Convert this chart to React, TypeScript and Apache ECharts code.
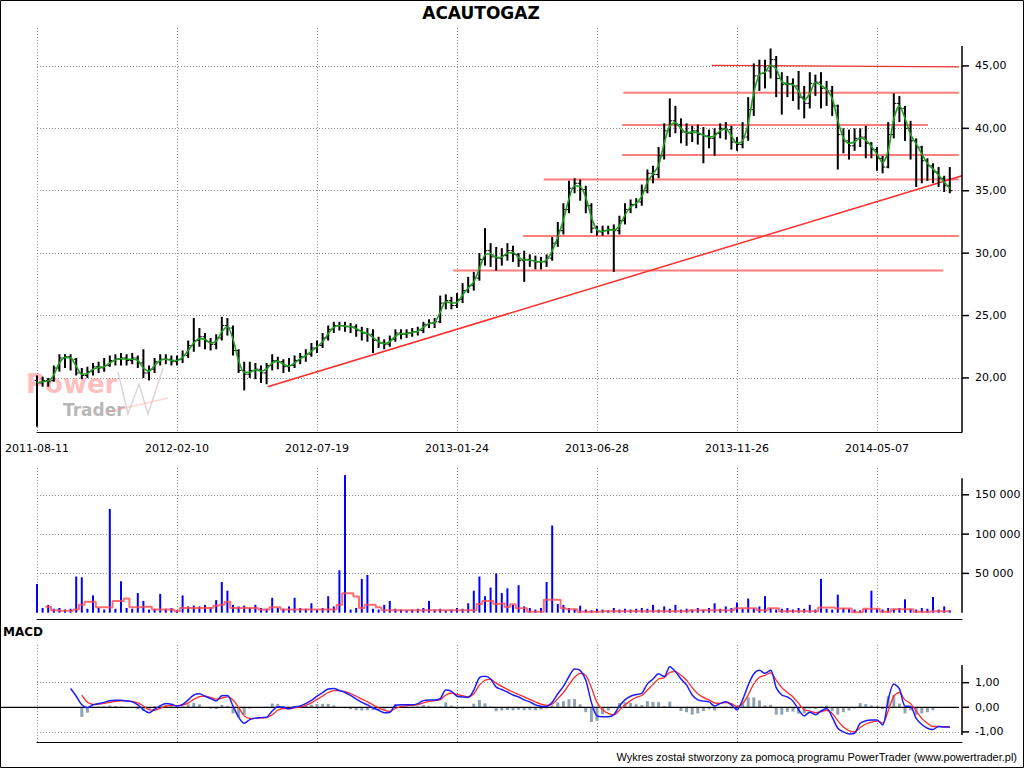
import React, { useEffect, useRef } from "react";
import * as echarts from "echarts";

const chartTitle = "ACAUTOGAZ";
const footerText = "Wykres został stworzony za pomocą programu PowerTrader (www.powertrader.pl)";
const dateLabels = ["2011-08-11", "2012-02-10", "2012-07-19", "2013-01-24", "2013-06-28", "2013-11-26", "2014-05-07"];
const barsPerLabel = 25;

// weekly bars: [open, close, low, high]
const priceBars = [
  [19.8, 19.6, 16.1, 20.2], [19.6, 19.8, 19.3, 20.1], [19.8, 19.7, 19.3, 20.0], [19.8, 20.8, 19.7, 21.0], [20.8, 21.6, 20.5, 21.9],
  [21.6, 21.7, 20.8, 21.9], [21.7, 21.5, 20.6, 21.9], [21.5, 20.4, 20.2, 21.6], [20.4, 20.2, 19.9, 20.8], [20.2, 20.5, 20.0, 20.9],
  [20.5, 20.9, 20.2, 21.2], [20.9, 20.8, 20.4, 21.3], [20.8, 21.0, 20.5, 21.6], [21.0, 21.4, 20.9, 21.8], [21.4, 21.5, 21.0, 21.9],
  [21.5, 21.6, 21.0, 22.0], [21.6, 21.4, 21.0, 21.9], [21.4, 21.6, 21.1, 22.0], [21.6, 21.2, 20.8, 21.8], [21.2, 20.4, 20.0, 22.3],
  [20.4, 20.7, 19.8, 21.0], [20.7, 21.3, 20.4, 21.6], [21.3, 21.5, 21.0, 21.9], [21.5, 21.5, 21.1, 21.9], [21.5, 21.3, 21.0, 21.8],
  [21.3, 21.5, 21.0, 21.8], [21.5, 21.8, 21.2, 22.2], [21.8, 22.6, 21.6, 23.0], [22.6, 23.0, 22.1, 24.8], [23.0, 23.3, 22.5, 24.0],
  [23.3, 22.9, 22.3, 23.6], [22.9, 22.7, 22.2, 23.2], [22.7, 23.2, 22.3, 23.5], [23.2, 24.2, 23.0, 24.9], [24.2, 24.0, 23.4, 24.8],
  [24.0, 22.2, 21.8, 24.2], [22.2, 20.6, 20.4, 22.3], [20.6, 20.3, 19.0, 21.3], [20.3, 20.6, 20.0, 21.3], [20.6, 20.7, 19.9, 21.2],
  [20.7, 20.4, 19.6, 21.0], [20.4, 21.0, 19.5, 21.2], [21.0, 21.4, 20.6, 21.9], [21.4, 21.3, 20.7, 21.7], [21.3, 20.9, 20.4, 21.5],
  [20.9, 21.0, 20.5, 21.6], [21.0, 21.4, 20.8, 21.8], [21.4, 21.7, 21.1, 22.0], [21.7, 21.9, 21.3, 22.3], [21.9, 22.4, 21.7, 22.8],
  [22.4, 22.6, 22.0, 23.0], [22.6, 23.2, 22.4, 23.6], [23.2, 23.9, 23.0, 24.2], [23.9, 24.2, 23.6, 24.5], [24.2, 24.2, 23.8, 24.5],
  [24.2, 24.1, 23.7, 24.5], [24.1, 24.1, 23.6, 24.4], [24.1, 23.8, 23.3, 24.3], [23.8, 23.6, 23.0, 24.1], [23.6, 23.5, 22.9, 24.0],
  [23.5, 23.0, 22.0, 23.9], [23.0, 22.8, 22.4, 23.3], [22.8, 22.7, 22.3, 23.1], [22.7, 23.1, 22.5, 23.4], [23.1, 23.6, 22.9, 23.9],
  [23.6, 23.5, 23.1, 23.9], [23.5, 23.6, 23.2, 23.9], [23.6, 23.7, 23.3, 24.0], [23.7, 23.8, 23.4, 24.1], [23.8, 24.3, 23.6, 24.5],
  [24.3, 24.4, 24.0, 24.7], [24.4, 24.5, 24.0, 24.8], [24.5, 26.0, 24.4, 26.6], [26.0, 26.2, 25.5, 26.7], [26.2, 25.8, 25.5, 26.5],
  [25.8, 26.3, 25.6, 26.8], [26.3, 27.0, 26.0, 27.6], [27.0, 27.4, 26.8, 28.1], [27.4, 28.0, 27.0, 28.5], [28.0, 29.5, 27.8, 30.0],
  [29.5, 30.2, 29.0, 32.0], [30.2, 29.7, 28.9, 30.8], [29.7, 29.6, 28.6, 30.5], [29.6, 29.8, 29.0, 30.4], [29.8, 30.2, 29.4, 30.8],
  [30.2, 29.9, 29.3, 30.6], [29.9, 29.4, 28.9, 30.0], [29.4, 29.5, 27.7, 30.2], [29.5, 29.4, 28.9, 29.9], [29.4, 29.3, 28.7, 29.8],
  [29.3, 29.3, 28.7, 29.7], [29.3, 29.6, 28.9, 29.9], [29.6, 30.8, 29.4, 31.3], [30.8, 31.8, 30.5, 32.5], [31.8, 33.5, 31.5, 34.0],
  [33.5, 35.2, 33.2, 35.8], [35.2, 35.6, 34.8, 36.0], [35.6, 35.1, 34.2, 35.9], [35.1, 33.8, 33.2, 35.4], [33.8, 32.0, 31.6, 34.0],
  [32.0, 31.7, 31.4, 32.2], [31.7, 31.8, 31.4, 32.2], [31.8, 31.9, 31.5, 32.2], [31.9, 31.8, 28.5, 32.3], [31.8, 32.6, 31.5, 33.0],
  [32.6, 33.5, 32.3, 34.0], [33.5, 33.9, 33.2, 34.3], [33.9, 34.1, 33.6, 34.4], [34.1, 35.0, 33.8, 35.5], [35.0, 36.4, 34.8, 36.7],
  [36.4, 36.3, 35.6, 37.0], [36.3, 37.8, 36.0, 38.5], [37.8, 39.8, 37.5, 40.4], [39.8, 40.6, 39.3, 42.4], [40.6, 40.3, 39.6, 41.8],
  [40.3, 39.7, 38.8, 40.8], [39.7, 39.6, 38.6, 40.4], [39.6, 39.8, 38.9, 40.2], [39.8, 39.5, 38.7, 40.3], [39.5, 39.4, 37.2, 40.1],
  [39.4, 39.2, 38.4, 39.9], [39.2, 39.6, 37.8, 40.0], [39.6, 40.0, 39.2, 40.4], [40.0, 39.9, 39.1, 40.5], [39.9, 38.9, 38.3, 40.2],
  [38.9, 38.7, 38.2, 39.3], [38.7, 39.3, 38.4, 40.5], [39.3, 41.5, 39.0, 42.5], [41.5, 44.2, 41.0, 45.2], [44.2, 44.4, 43.0, 45.5],
  [44.4, 44.6, 43.2, 45.5], [44.6, 45.5, 44.0, 46.4], [45.5, 44.0, 42.5, 45.8], [44.0, 43.5, 41.1, 44.5], [43.5, 43.6, 42.5, 44.2],
  [43.6, 43.4, 42.2, 44.0], [43.4, 42.5, 41.5, 44.6], [42.5, 42.0, 40.8, 43.4], [42.0, 43.6, 41.6, 44.5], [43.6, 43.7, 42.6, 44.3],
  [43.7, 43.2, 41.6, 44.5], [43.2, 43.0, 41.8, 43.8], [43.0, 41.8, 41.0, 43.4], [41.8, 39.5, 36.7, 41.9], [39.5, 39.0, 38.0, 40.0],
  [39.0, 38.6, 37.5, 39.9], [38.6, 39.2, 38.2, 40.0], [39.2, 39.3, 38.5, 40.0], [39.3, 38.8, 37.6, 40.2], [38.8, 38.3, 37.6, 38.9],
  [38.3, 37.6, 36.6, 38.5], [37.6, 36.9, 36.4, 37.8], [36.9, 39.5, 36.8, 40.5], [39.5, 42.0, 39.2, 42.8], [42.0, 41.6, 40.5, 42.6],
  [41.6, 40.0, 39.0, 41.8], [40.0, 39.0, 37.5, 40.6], [39.0, 38.5, 35.3, 39.2], [38.5, 37.4, 35.6, 38.6], [37.4, 37.0, 35.8, 37.6],
  [37.0, 36.5, 35.6, 37.2], [36.5, 36.0, 35.3, 36.9], [36.0, 35.4, 34.9, 36.2], [35.4, 35.0, 34.8, 36.9],
];

const volumes = [
  36500, 6000, 10000, 5000, 6000, 4000, 5000, 46000, 45000, 5000,
  22000, 6000, 4000, 132000, 5000, 40000, 6000, 5000, 25000, 15000,
  4000, 5000, 24000, 5000, 6000, 3000, 22000, 8000, 9000, 8000,
  10000, 7000, 16000, 39000, 28000, 10000, 8000, 9000, 6000, 10000,
  6000, 5000, 19000, 6000, 5000, 8000, 19000, 6000, 5000, 12000,
  4000, 6000, 21000, 8000, 54000, 175000, 4000, 6000, 43000, 48000,
  5000, 4000, 10000, 15000, 5000, 4000, 3000, 4000, 5000, 6000,
  15000, 4000, 5000, 3000, 4000, 6000, 5000, 12000, 28000, 46000,
  21000, 32000, 50000, 25000, 31000, 10000, 35000, 8000, 6000, 4000,
  6000, 39000, 111000, 11000, 10000, 6000, 5000, 9000, 4000, 3000,
  5000, 4000, 3000, 6000, 4000, 5000, 4000, 5000, 6000, 5000,
  10000, 4000, 8000, 5000, 10000, 4000, 5000, 4000, 6000, 4000,
  6000, 12000, 5000, 8000, 6000, 13000, 5000, 18000, 6000, 8000,
  21000, 6000, 4000, 5000, 6000, 4000, 6000, 5000, 10000, 4000,
  43000, 5000, 4000, 23000, 6000, 5000, 4000, 3000, 5000, 28000,
  5000, 4000, 6000, 5000, 6000, 17000, 5000, 4000, 6000, 5000,
  20000, 4000, 8000, 3000,
];

const volumeAverage = [
  null, null, 7600, 3000, 2500, 2500, 2500, 4000, 10000, 14000,
  14000, 7000, 7000, 6500, 15000, 15000, 18000, 7000, 7000, 7500,
  7500, 4000, 4000, 4000, 4000, 2000, 6000, 6000, 6000, 6000,
  6000, 6000, 9000, 10000, 14000, 6000, 6000, 6000, 6000, 6000,
  4000, 4000, 7000, 7000, 4000, 4000, 4000, 4000, 4000, 4000,
  4000, 4000, 4000, 4000, 10000, 24600, 24600, 20500, 6000, 10000,
  10000, 7000, 3000, 3000, 3000, 3000, 3000, 3000, 3000, 3000,
  3000, 3000, 3000, 3000, 3000, 3000, 3000, 3000, 3000, 11000,
  15000, 15000, 11000, 11700, 7400, 10900, 5700, 5700, 1300, 1300,
  1300, 16500, 16500, 16500, 5700, 4300, 4300, 1300, 1300, 1300,
  1300, 2000, 2000, 2000, 2000, 2000, 2000, 2000, 2000, 2000,
  2000, 2000, 2000, 2000, 2000, 2000, 2000, 3000, 3000, 3000,
  3000, 3000, 3000, 3000, 3000, 5700, 5700, 5700, 5700, 3000,
  3000, 5700, 5700, 2000, 2000, 2000, 2000, 2000, 2000, 2000,
  6500, 6500, 6500, 5200, 5200, 5200, 500, 500, 5000, 5000,
  5000, 1300, 1300, 4300, 4300, 4300, 4300, 1300, 1300, 1300,
  2000, 2000, 2000, 2000,
];

const macdLine = [
  null, null, null, null, null, null, 0.76, 0.45, 0.1, -0.02,
  0.1, 0.15, 0.2, 0.27, 0.29, 0.29, 0.26, 0.22, 0.1, -0.1,
  -0.22, -0.08, 0.06, 0.15, 0.12, 0.05, 0.12, 0.3, 0.5, 0.55,
  0.45, 0.35, 0.26, 0.47, 0.48, 0.05, -0.4, -0.65, -0.5, -0.44,
  -0.42, -0.4, -0.15, 0.02, 0.0, -0.06, 0.02, 0.05, 0.15, 0.28,
  0.45, 0.6, 0.74, 0.76, 0.68, 0.6, 0.48, 0.33, 0.2, 0.1,
  -0.02, -0.12, -0.22, -0.2, 0.08, 0.1, 0.1, 0.1, 0.15, 0.27,
  0.3, 0.3, 0.35, 0.7, 0.65, 0.45, 0.42, 0.4, 0.7, 1.2,
  1.26, 1.15, 0.82, 0.72, 0.62, 0.5, 0.42, 0.3, 0.22, 0.1,
  0.04, 0.03, 0.2, 0.55, 0.85, 1.25, 1.56, 1.5, 1.1, 0.2,
  -0.35, -0.38, -0.38, -0.3, 0.05, 0.3, 0.45, 0.52, 0.57, 0.95,
  1.15, 1.36, 1.25, 1.65, 1.45, 1.15, 0.9, 0.5, 0.3, 0.25,
  0.22, 0.05, 0.15, 0.22, 0.1, -0.1, 0.3, 0.9, 1.35, 1.5,
  1.38, 1.5, 0.8, 0.5, 0.42, 0.25, -0.1, -0.35, -0.2, -0.3,
  -0.15, -0.05, -0.4, -0.85, -1.0, -1.08, -1.05, -0.65, -0.55, -0.52,
  -0.52, -0.72, 0.3, 0.95, 0.75, 0.05, 0.03, -0.45, -0.7, -0.85,
  -0.9, -0.78, -0.8, -0.8,
];

const signalLine = [
  null, null, null, null, null, null, null, null, 0.49, 0.2,
  0.12, 0.13, 0.16, 0.2, 0.24, 0.26, 0.26, 0.24, 0.18, 0.05,
  -0.1, -0.12, -0.04, 0.05, 0.08, 0.07, 0.09, 0.18, 0.32, 0.43,
  0.45, 0.4, 0.33, 0.37, 0.42, 0.3, 0.0, -0.35, -0.45, -0.45,
  -0.43, -0.42, -0.3, -0.12, -0.05, -0.05, -0.02, 0.02, 0.08, 0.18,
  0.32, 0.46, 0.6, 0.68, 0.68, 0.64, 0.56, 0.45, 0.33, 0.22,
  0.1, -0.02, -0.12, -0.17, -0.05, 0.03, 0.07, 0.08, 0.11, 0.18,
  0.24, 0.27, 0.31, 0.5, 0.58, 0.52, 0.47, 0.43, 0.55, 0.9,
  1.1, 1.13, 0.98, 0.85, 0.73, 0.62, 0.52, 0.42, 0.32, 0.22,
  0.13, 0.08, 0.13, 0.35, 0.6, 0.92, 1.22, 1.38, 1.3, 0.8,
  0.2, -0.1, -0.25, -0.3, -0.12, 0.1, 0.27, 0.4, 0.48, 0.7,
  0.93, 1.15, 1.2, 1.42, 1.45, 1.3, 1.1, 0.8, 0.55, 0.4,
  0.3, 0.18, 0.16, 0.19, 0.15, 0.03, 0.15, 0.5, 0.95, 1.22,
  1.3, 1.4, 1.1, 0.8, 0.6, 0.42, 0.16, -0.1, -0.15, -0.22,
  -0.18, -0.12, -0.25, -0.55, -0.8, -0.95, -1.0, -0.82, -0.68, -0.6,
  -0.56, -0.64, -0.15, 0.45, 0.6, 0.3, 0.15, -0.15, -0.45, -0.65,
  -0.78, -0.78, -0.79, -0.8,
];

// support / resistance levels: [price at start, price at end, first bar, last bar]
const levelLines = [
  [45.05, 44.92, 120.5, 164.6],
  [42.86, 42.86, 104.7, 164.6],
  [40.27, 40.27, 104.5, 159.1],
  [37.87, 37.87, 104.5, 164.6],
  [35.9, 35.9, 90.5, 164.6],
  [31.38, 31.38, 86.8, 164.6],
  [28.6, 28.6, 74.3, 161.8],
];
const trendLine = [[41.2, 19.3], [165.2, 36.2]];

const priceTicks = [20, 25, 30, 35, 40, 45];
const volumeTicks = [50000, 100000, 150000];
const macdTicks = [-1, 0, 1];

const X_MAX = 165.18;
const FONT = "DejaVu Sans";

const fmt2 = (v: number) => v.toFixed(2).replace(".", ",");
const fmtVol = (v: number) => String(Math.round(v)).replace(/\B(?=(\d{3})+(?!\d))/g, " ");

export default function App() {
  const ref = useRef<HTMLDivElement>(null);
  useEffect(() => {
    if (!ref.current) return;
    const chart = echarts.init(ref.current, undefined, { renderer: "svg" });

    const closes = priceBars.map((b) => b[1]);
    const ma = closes.map((c, i) => (i === 0 ? c : (c + closes[i - 1]) / 2));
    const hist = macdLine
      .map((m, i) => (m != null && signalLine[i] != null ? [i, +(m - (signalLine[i] as number)).toFixed(3)] : null))
      .filter(Boolean);

    const dotted = { color: "#8c8c8c", type: [1, 2] as any, width: 1 };
    const xAxisBase = (gi: number) => ({
      type: "value",
      gridIndex: gi,
      min: 0,
      max: X_MAX,
      interval: barsPerLabel,
      offset: gi === 1 ? 7 : 0,
      axisLine: { show: true, onZero: false, lineStyle: { color: "#000", width: 1 } },
      axisTick: { show: false },
      axisLabel:
        gi === 0
          ? {
              show: true,
              color: "#000",
              fontFamily: FONT,
              fontSize: 11,
              margin: 11,
              showMaxLabel: false,
              formatter: (v: number) => {
                const k = Math.round(v / barsPerLabel);
                return Math.abs(v - k * barsPerLabel) < 1e-6 && dateLabels[k] ? dateLabels[k] : "";
              },
            }
          : { show: false },
      splitLine: { show: true, showMaxLine: false, lineStyle: dotted },
    });

    const yLabel = (formatter: (v: number) => string) => ({
      show: true,
      color: "#000",
      fontFamily: FONT,
      fontSize: 11,
      margin: 13,
      showMinLabel: false,
      showMaxLabel: false,
      formatter,
    });

    const option: any = {
      animation: false,
      backgroundColor: "#ffffff",
      grid: [
        { left: 37, right: 62, top: 28, bottom: 336 },
        { left: 37, right: 62, top: 468, bottom: 155.3 },
        { left: 37, right: 62, top: 645, bottom: 26 },
      ],
      xAxis: [xAxisBase(0), xAxisBase(1), xAxisBase(2)],
      yAxis: [
        {
          type: "value",
          gridIndex: 0,
          position: "right",
          min: 15.67,
          max: 48.04,
          splitNumber: 6,
          axisLine: { show: false },
          axisTick: { show: false },
          axisLabel: yLabel((v) => fmt2(v)),
          splitLine: { show: true, showMinLine: false, showMaxLine: false, lineStyle: dotted },
        },
        {
          type: "value",
          gridIndex: 1,
          position: "right",
          min: 0,
          max: 184100,
          interval: 50000,
          axisLine: { show: false },
          axisTick: { show: false },
          axisLabel: yLabel((v) => fmtVol(v)),
          splitLine: { show: true, showMinLine: false, showMaxLine: false, lineStyle: dotted },
        },
        {
          type: "value",
          gridIndex: 2,
          position: "right",
          min: -1.41,
          max: 2.53,
          splitNumber: 4,
          axisLine: { show: false },
          axisTick: { show: false },
          axisLabel: yLabel((v) => (macdTicks.some((t) => Math.abs(t - v) < 1e-6) ? fmt2(v) : "")),
          splitLine: { show: false },
        },
      ],
      series: [
        ...levelLines.map((l, idx) => ({
          type: "line",
          xAxisIndex: 0,
          yAxisIndex: 0,
          data: [[l[2], l[0]], [l[3], l[1]]],
          symbol: "none",
          silent: true,
          z: 1,
          lineStyle: idx === 0 ? { color: "#f03030", width: 1.2 } : { color: "#ff7c7c", width: 2 },
        })),
        {
          type: "line",
          xAxisIndex: 0,
          yAxisIndex: 0,
          data: trendLine,
          symbol: "none",
          silent: true,
          z: 1,
          lineStyle: { color: "#ff2a2a", width: 1.5 },
        },
        {
          type: "custom",
          xAxisIndex: 0,
          yAxisIndex: 0,
          data: priceBars.map((b, i) => [i, b[0], b[1], b[2], b[3]]),
          encode: { x: 0, y: [1, 2, 3, 4] },
          z: 3,
          renderItem: (params: any, api: any) => {
            const x = api.value(0);
            const o = api.coord([x, api.value(1)]);
            const c = api.coord([x, api.value(2)]);
            const l = api.coord([x, api.value(3)]);
            const h = api.coord([x, api.value(4)]);
            return {
              type: "group",
              children: [
                { type: "line", shape: { x1: l[0], y1: l[1], x2: h[0], y2: h[1] }, style: { stroke: "#000", lineWidth: 2 } },
                { type: "line", shape: { x1: o[0] - 2.5, y1: o[1], x2: o[0], y2: o[1] }, style: { stroke: "#000", lineWidth: 1 } },
                { type: "line", shape: { x1: c[0], y1: c[1], x2: c[0] + 2.5, y2: c[1] }, style: { stroke: "#000", lineWidth: 1 } },
              ],
            };
          },
        },
        {
          type: "line",
          xAxisIndex: 0,
          yAxisIndex: 0,
          data: ma.map((v, i) => [i, +v.toFixed(3)]),
          symbol: "none",
          smooth: 0.3,
          z: 4,
          lineStyle: { color: "#1f9e1f", width: 1.6 },
        },
        {
          type: "bar",
          xAxisIndex: 1,
          yAxisIndex: 1,
          data: volumes.map((v, i) => [i, v]),
          barWidth: 2,
          itemStyle: { color: "#0000ff" },
        },
        {
          type: "line",
          xAxisIndex: 1,
          yAxisIndex: 1,
          data: volumeAverage.map((v, i) => [i, v]),
          step: "middle",
          symbol: "none",
          connectNulls: false,
          z: 4,
          lineStyle: { color: "#ff4a4a", width: 2, opacity: 0.8 },
        },
        {
          type: "bar",
          xAxisIndex: 2,
          yAxisIndex: 2,
          data: hist,
          barWidth: 3,
          itemStyle: { color: "#8fa3b3" },
        },
        {
          type: "line",
          xAxisIndex: 2,
          yAxisIndex: 2,
          data: signalLine.map((v, i) => [i, v]),
          symbol: "none",
          smooth: 0.3,
          z: 4,
          lineStyle: { color: "#ff2a2a", width: 1.3 },
        },
        {
          type: "line",
          xAxisIndex: 2,
          yAxisIndex: 2,
          data: macdLine.map((v, i) => [i, v]),
          symbol: "none",
          smooth: 0.3,
          z: 5,
          lineStyle: { color: "#1c1cff", width: 1.5 },
          markLine: {
            silent: true,
            symbol: "none",
            label: { show: false },
            lineStyle: dotted,
            data: [{ yAxis: 1 }, { yAxis: -1 }],
          },
        },
      ],
    };
    chart.setOption(option);

    const px = (g: number, x: number, y: number) => chart.convertToPixel({ xAxisIndex: g, yAxisIndex: g }, [x, y]) as number[];
    const elements: any[] = [];
    const axes = [
      { g: 0, from: 46.6, to: 15.67, ticks: priceTicks },
      { g: 1, from: 171000, to: 0, ticks: volumeTicks },
      { g: 2, from: 1.72, to: -1.13, ticks: macdTicks },
    ];
    axes.forEach((a) => {
      const p1 = px(a.g, X_MAX, a.from);
      const p2 = px(a.g, X_MAX, a.to);
      elements.push({ type: "line", shape: { x1: p1[0], y1: p1[1], x2: p2[0], y2: p2[1] }, style: { stroke: "#000", lineWidth: 1.5 }, z: 10 });
      a.ticks.forEach((t) => {
        const p = px(a.g, X_MAX, t);
        elements.push({ type: "line", shape: { x1: p[0], y1: p[1], x2: p[0] + 7, y2: p[1] }, style: { stroke: "#000", lineWidth: 1.5 }, z: 10 });
      });
    });
    const z0 = px(2, 0, 0);
    const zEnd = px(2, X_MAX, 0);
    elements.push({ type: "line", shape: { x1: 1, y1: z0[1], x2: zEnd[0] - 3, y2: z0[1] }, style: { stroke: "#000", lineWidth: 1.2 }, z: 3 });

    elements.push(
      { type: "text", x: 481, y: 13, z: 10, style: { text: chartTitle, textAlign: "center", textVerticalAlign: "middle", font: `bold 17px '${FONT}'`, fill: "#000" } },
      { type: "text", x: 3, y: 632, z: 10, style: { text: "MACD", textAlign: "left", textVerticalAlign: "middle", font: `bold 12px '${FONT}'`, fill: "#000" } },
      { type: "text", x: 1017, y: 757, z: 10, style: { text: footerText, textAlign: "right", textVerticalAlign: "middle", font: "11px 'Liberation Sans'", fill: "#000" } },
      { type: "text", x: 26, y: 384, z: 0, style: { text: "Power", textAlign: "left", textVerticalAlign: "middle", font: `bold 26px '${FONT}'`, fill: "rgba(255,110,110,0.45)" } },
      { type: "text", x: 63, y: 410, z: 0, style: { text: "Trader", textAlign: "left", textVerticalAlign: "middle", font: `bold 17px '${FONT}'`, fill: "rgba(120,120,120,0.55)" } },
      {
        type: "polyline",
        z: 0,
        shape: { points: [[118, 372], [128, 414], [139, 384], [148, 414], [163, 368]] },
        style: { fill: "none", stroke: "rgba(200,170,170,0.5)", lineWidth: 1.5 },
      },
      {
        type: "line",
        z: 0,
        shape: { x1: 108, y1: 412, x2: 168, y2: 398 },
        style: { stroke: "rgba(255,150,150,0.4)", lineWidth: 1.5 },
      },
      { type: "rect", z: 20, shape: { x: 0.5, y: 0.5, width: 1023, height: 767 }, style: { fill: "none", stroke: "#000", lineWidth: 1 } }
    );
    chart.setOption({ graphic: { elements } });

    return () => chart.dispose();
  }, []);
  return <div ref={ref} style={{ position: "absolute", left: 0, top: 0, width: 1024, height: 768, background: "#fff" }} />;
}
